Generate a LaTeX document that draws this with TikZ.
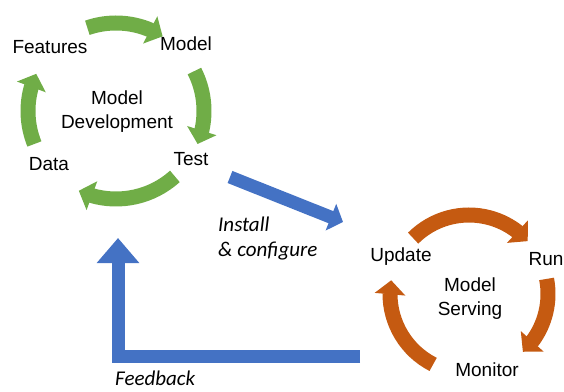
\documentclass[tikz,border=0pt]{standalone}
\usepackage{fontspec}
\setmainfont{Liberation Sans}
\newfontfamily\notefont{Carlito}
\usepackage{xcolor}
\usepackage{tikz}
\usetikzlibrary{positioning,arrows.meta,bending}

\definecolor{devgreen}{HTML}{70AD47}
\definecolor{servorange}{HTML}{C55A11}
\definecolor{flowblue}{HTML}{4472C4}

\begin{document}
\begin{tikzpicture}[x=1pt,y=1pt,
    lbl/.style={font=\fontsize{19}{24}\selectfont, inner sep=0pt, text height=1.5ex, text depth=.25ex},
    title/.style={font=\fontsize{19}{24}\selectfont, align=center, inner sep=0pt},
    note/.style={font=\notefont\itshape\fontsize{21}{25}\selectfont, align=left, inner sep=0pt},
    cyclearrow/.style={line width=15pt, -{Triangle[length=14pt,width=30pt]}},
    flowarrow/.style={flowblue, line width=13pt, line join=miter}]
    \useasboundingbox (0,0) rectangle (564,391);

    % Centres of the two cycles
    \coordinate (devc) at (116,280);
    \coordinate (servc) at (469,97);

    % Draw the model development cycle
    \foreach \a/\b in {109/58, 27/-22, -48/-115, 202/155} {
        \draw[cyclearrow, devgreen] ([shift={(\a:88)}]devc) arc[start angle=\a, end angle=\b, radius=88];
    }
    \node[lbl] (features) at (50,341) {Features};
    \node[lbl] (model) at (186,344) {Model};
    \node[lbl] (test) at (191,229) {Test};
    \node[lbl] (data) at (49,224) {Data};
    \node[title] (devtitle) at (117,279) {Model\\Development};

    % Draw the model serving cycle
    \foreach \a/\b in {135/42, 11/-47, 243/170} {
        \draw[cyclearrow, servorange] ([shift={(\a:79)}]servc) arc[start angle=\a, end angle=\b, radius=79];
    }
    \node[lbl] (update) at (401,133) {Update};
    \node[lbl] (run) at (546,129) {Run};
    \node[lbl] (monitor) at (487,18) {Monitor};
    \node[title] (servtitle) at (470,92.5) {Model\\Serving};

    % Install arrow from development to serving
    \coordinate (installstart) at (230,214);
    \coordinate (installend) at (343,169);
    \draw[flowarrow, -{Triangle[length=13pt,width=28pt]}] (installstart) -- (installend);
    \node[note, anchor=north west] (install) at (218,174) {Install\\\& configure};

    % Feedback arrow back to development
    \coordinate (fbstart) at (360,35);
    \coordinate (fbend) at (118,153);
    \draw[flowarrow, -{Triangle[length=25pt,width=41pt]}] (fbstart) -| (fbend);
    \node[note, anchor=base west] (feedback) at (115,6) {Feedback};
\end{tikzpicture}
\end{document}
